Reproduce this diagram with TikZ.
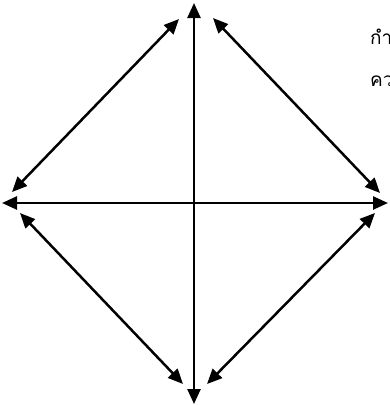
\documentclass[tikz,border=0pt]{standalone}
\usepackage{fontspec}
\newfontfamily\thaifont[Script=Thai]{Loma}
\usetikzlibrary{arrows.meta}
\begin{document}
\begin{tikzpicture}[x=1pt,y=-1pt,
  dbl/.style={line width=2.5pt,{Triangle[length=15pt,width=13pt]}-{Triangle[length=15pt,width=13pt]}},
  thai/.style={anchor=base west,inner sep=0pt,font=\thaifont\fontsize{19}{22}\selectfont}]
\useasboundingbox (0,0) rectangle (389,405);
\clip (0,0) rectangle (389,405);
\coordinate (T) at (194,3);
\coordinate (B) at (194,404);
\coordinate (L) at (2,203);
\coordinate (R) at (388,203);
\coordinate (tl1) at (179,19);
\coordinate (tl2) at (12,192);
\coordinate (tr1) at (213,18);
\coordinate (tr2) at (380,193);
\coordinate (bl1) at (20,213);
\coordinate (bl2) at (183,384);
\coordinate (br1) at (375,213);
\coordinate (br2) at (207,384);
\draw[dbl] (B) -- (T);
\draw[dbl] (L) -- (R);
\draw[dbl] (tl1) -- (tl2);
\draw[dbl] (tr1) -- (tr2);
\draw[dbl] (bl1) -- (bl2);
\draw[dbl] (br1) -- (br2);
\node[thai] (t1) at (370,44) {กำ};
\node[thai] (t2) at (370,86) {คว};
\end{tikzpicture}
\end{document}
